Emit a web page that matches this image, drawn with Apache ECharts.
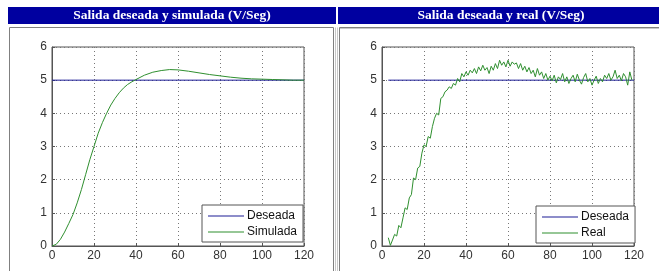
<!DOCTYPE html>
<html>
<head>
<meta charset="utf-8">
<script src="https://cdn.jsdelivr.net/npm/echarts@6/dist/echarts.min.js"></script>
<style>
  html, body { margin: 0; padding: 0; background: #fff; }
  #main { width: 659px; height: 271px; }
</style>
</head>
<body>
<div id="main"></div>
<script>
var myChart = echarts.init(document.getElementById('main'));

// títulos y leyendas
var titulos = ['Salida deseada y simulada (V/Seg)', 'Salida deseada y real (V/Seg)'];
var nombresIzq = ['Deseada', 'Simulada'];
var nombresDer = ['Deseada', 'Real'];

// referencia (V)
var deseadaIzq = [[0, 5], [120, 5]];
var deseadaDer = [[3, 5], [120, 5]];

// salida simulada
var tSim = [0, 2, 4, 6, 8, 10, 12, 14, 16, 18, 20, 22, 24, 26, 28, 30, 32, 34, 36, 38, 40,
  44, 48, 52, 56, 60, 65, 70, 75, 80, 85, 90, 95, 100, 105, 110, 115, 120];
var ySim = [0, 0.05, 0.2, 0.42, 0.68, 0.95, 1.3, 1.7, 2.15, 2.6, 3.0, 3.4, 3.72, 4.0, 4.25, 4.45,
  4.62, 4.76, 4.87, 4.95, 5.02, 5.15, 5.24, 5.29, 5.32, 5.31, 5.27, 5.22, 5.17, 5.13, 5.09, 5.06,
  5.04, 5.03, 5.02, 5.01, 5.0, 5.0];

// salida real (con ruido), un valor por segundo desde t=3
var t0Real = 3;
var yReal = [0.25, 0.02, 0.18, 0.35, 0.3, 0.62, 0.55, 0.85, 1.15, 1.1,
  1.45, 1.55, 2.05, 2.0, 2.35, 2.4, 2.8, 3.05, 3.0, 3.3,
  3.25, 3.6, 3.85, 4.0, 3.95, 4.45, 4.5, 4.65, 4.7, 4.8,
  4.75, 4.9, 4.85, 5.05, 4.95, 5.2, 5.1, 5.25, 5.15, 5.3,
  5.22, 5.35, 5.2, 5.4, 5.28, 5.45, 5.3, 5.38, 5.2, 5.42,
  5.3, 5.5, 5.35, 5.6, 5.45, 5.55, 5.4, 5.6, 5.42, 5.55,
  5.48, 5.52, 5.35, 5.5, 5.3, 5.42, 5.25, 5.38, 5.2, 5.3,
  5.1, 5.35, 5.15, 5.25, 5.05, 5.2, 5.0, 5.12, 4.98, 5.15,
  4.92, 5.1, 5.02, 5.2, 4.95, 5.1, 4.9, 5.05, 5.15, 4.95,
  5.18, 5.0, 4.88, 5.08, 5.2, 4.95, 5.05, 4.85, 5.0, 5.12,
  4.9, 5.05, 4.95, 5.15, 5.05, 5.2, 5.0, 5.1, 5.3, 5.05,
  5.15, 4.98, 5.2, 5.1, 4.85, 5.25, 5.0];

var simulada = tSim.map(function (t, i) { return [t, ySim[i]]; });
var real = yReal.map(function (v, i) { return [t0Real + i, v]; });

var azul = '#1c1c96';
var verde = '#2f8f2f';
var fuente = 'Liberation Sans';

function ejeX(idx) {
  return {
    type: 'value', gridIndex: idx, min: 0, max: 120, interval: 20,
    axisLine: { show: true, lineStyle: { color: '#555' } },
    axisTick: { show: true, inside: true, length: 3, lineStyle: { color: '#555' } },
    axisLabel: { color: '#333', fontFamily: fuente, fontSize: 12, margin: 4 },
    splitLine: { show: true, lineStyle: { color: '#777', type: [1, 3] } }
  };
}
function ejeY(idx) {
  return {
    type: 'value', gridIndex: idx, min: 0, max: 6, interval: 1,
    axisLine: { show: true, lineStyle: { color: '#555' } },
    axisTick: { show: true, inside: true, length: 3, lineStyle: { color: '#555' } },
    axisLabel: { color: '#333', fontFamily: fuente, fontSize: 12, margin: 5 },
    splitLine: { show: true, lineStyle: { color: '#777', type: [1, 3] } }
  };
}
function leyenda(left, top, nombres) {
  return {
    orient: 'vertical', left: left, top: top,
    data: nombres, icon: 'rect', itemWidth: 36, itemHeight: 1, itemGap: 4,
    padding: [5, 6, 4, 6],
    backgroundColor: '#fff', borderColor: '#555', borderWidth: 1,
    textStyle: { color: '#111', fontFamily: fuente, fontSize: 12, padding: [0, 0, 0, -2] }
  };
}
function linea(nombre, datos, color, xi) {
  return {
    name: nombre, type: 'line', data: datos, xAxisIndex: xi, yAxisIndex: xi,
    showSymbol: false, symbol: 'none', animation: false,
    lineStyle: { color: color, width: 1 }, itemStyle: { color: color }
  };
}

option = {
  animation: false,
  backgroundColor: '#fff',
  graphic: [
    { type: 'rect', shape: { x: 8, y: 7, width: 328, height: 17 }, style: { fill: '#0000a0' } },
    { type: 'rect', shape: { x: 338, y: 7, width: 321, height: 17 }, style: { fill: '#0000a0' } },
    { type: 'text', x: 172, y: 16, style: { text: titulos[0], fill: '#fff', font: 'bold 13.5px "Liberation Serif"', textAlign: 'center', textVerticalAlign: 'middle' } },
    { type: 'text', x: 501, y: 16, style: { text: titulos[1], fill: '#fff', font: 'bold 13.5px "Liberation Serif"', textAlign: 'center', textVerticalAlign: 'middle' } },
    { type: 'line', shape: { x1: 9.5, y1: 27.5, x2: 333.5, y2: 27.5 }, style: { stroke: '#808080' } },
    { type: 'line', shape: { x1: 9.5, y1: 27.5, x2: 9.5, y2: 271 }, style: { stroke: '#808080' } },
    { type: 'line', shape: { x1: 333.5, y1: 27.5, x2: 333.5, y2: 271 }, style: { stroke: '#808080' } },
    { type: 'line', shape: { x1: 335.5, y1: 27.5, x2: 335.5, y2: 271 }, style: { stroke: '#c8c8c8' } },
    { type: 'line', shape: { x1: 339.5, y1: 27.5, x2: 659, y2: 27.5 }, style: { stroke: '#808080' } },
    { type: 'line', shape: { x1: 339.5, y1: 28.5, x2: 659, y2: 28.5 }, style: { stroke: '#c8c8c8' } },
    { type: 'line', shape: { x1: 337.5, y1: 27.5, x2: 337.5, y2: 271 }, style: { stroke: '#c8c8c8' } },
    { type: 'line', shape: { x1: 339.5, y1: 27.5, x2: 339.5, y2: 271 }, style: { stroke: '#808080' } }
  ],
  grid: [
    { left: 52, top: 47, width: 252, height: 199, show: true, borderColor: '#555', borderWidth: 1 },
    { left: 382, top: 47, width: 252, height: 199, show: true, borderColor: '#555', borderWidth: 1 }
  ],
  xAxis: [ejeX(0), ejeX(1)],
  yAxis: [ejeY(0), ejeY(1)],
  legend: [
    leyenda(202, 205, nombresIzq),
    leyenda(536, 206, nombresDer)
  ],
  series: [
    linea('Deseada', deseadaIzq, azul, 0),
    linea('Simulada', simulada, verde, 0),
    linea('Deseada', deseadaDer, azul, 1),
    linea('Real', real, verde, 1)
  ]
};

myChart.setOption(option);
</script>
</body>
</html>
